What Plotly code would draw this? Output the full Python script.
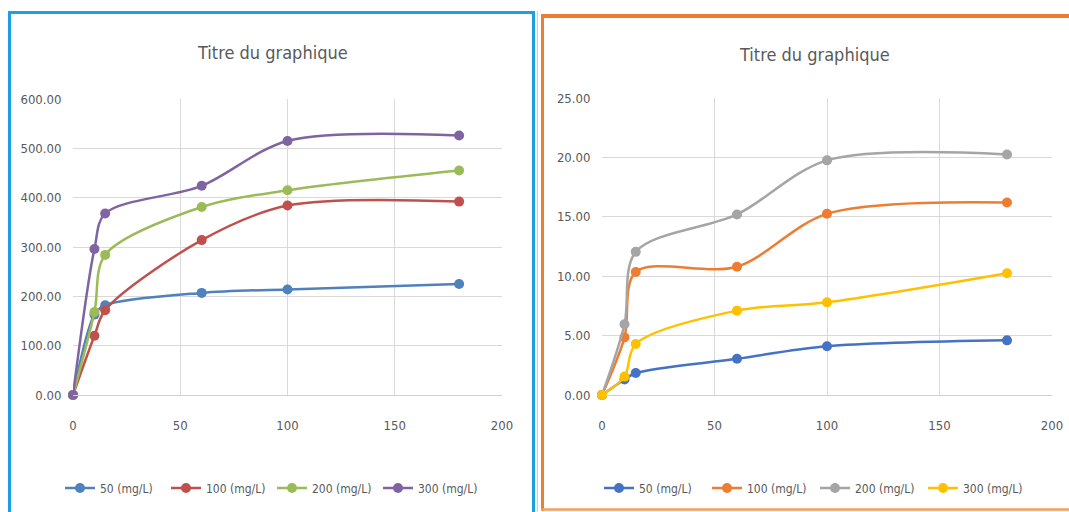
import plotly.graph_objects as go

W, H = 1069, 512

time_min = [0, 10, 15, 60, 100, 180]

left_names = ["50 (mg/L)", "100 (mg/L)", "200 (mg/L)", "300 (mg/L)"]
left_c50 = [0, 163, 182, 207, 214, 225]
left_c100 = [0, 120, 172, 314, 384, 392]
left_c200 = [0, 168, 284, 381, 415, 455]
left_c300 = [0, 296, 368, 424, 515, 526]
left_colors = ["#4F81BD", "#C0504D", "#9BBB59", "#8064A2"]

right_names = ["50 (mg/L)", "100 (mg/L)", "200 (mg/L)", "300 (mg/L)"]
right_c50 = [0, 1.3, 1.85, 3.05, 4.1, 4.6]
right_c100 = [0, 4.85, 10.35, 10.8, 15.25, 16.2]
right_c200 = [0, 5.95, 12.05, 15.2, 19.75, 20.25]
right_c300 = [0, 1.55, 4.3, 7.1, 7.8, 10.25]
right_colors = ["#4472C4", "#ED7D31", "#A5A5A5", "#FFC000"]

title_text = "Titre du graphique"
x_ticks = [0, 50, 100, 150, 200]

FONT = "DejaVu Sans Condensed, Liberation Sans Narrow, Liberation Sans, sans-serif"
TXT = "#595959"

fig = go.Figure()

for name, ys, col in zip(left_names, [left_c50, left_c100, left_c200, left_c300], left_colors):
    fig.add_trace(go.Scatter(
        x=time_min, y=ys, name=name, mode="lines+markers",
        line=dict(color=col, width=2.5, shape="spline", smoothing=0.9),
        marker=dict(color=col, size=10, symbol="circle"),
        cliponaxis=False,
        xaxis="x", yaxis="y", legend="legend"))

for name, ys, col in zip(right_names, [right_c50, right_c100, right_c200, right_c300], right_colors):
    fig.add_trace(go.Scatter(
        x=time_min, y=ys, name=name, mode="lines+markers",
        line=dict(color=col, width=2.5, shape="spline", smoothing=0.9),
        marker=dict(color=col, size=10, symbol="circle"),
        cliponaxis=False,
        xaxis="x2", yaxis="y2", legend="legend2"))

def px(x):
    return x / W

def py(y):
    return 1 - y / H

axis_common = dict(
    showgrid=True, gridcolor="#D9D9D9", gridwidth=1,
    zeroline=False, tickfont=dict(family=FONT, size=13, color=TXT),
    ticks="outside", tickcolor="rgba(0,0,0,0)", fixedrange=True,
    automargin=False,
)

fig.update_layout(
    width=W, height=H,
    autosize=False,
    margin=dict(l=0, r=0, t=0, b=0, pad=0, autoexpand=False),
    paper_bgcolor="white", plot_bgcolor="white",
    showlegend=True,
    xaxis=dict(domain=[px(73), px(502)], range=[0, 200], tickvals=x_ticks,
               anchor="y", ticklen=18, showline=True, linecolor="#D0D0D0",
               **axis_common),
    yaxis=dict(domain=[py(395), py(99)], range=[0, 600], dtick=100,
               tickformat=".2f", anchor="x", ticklen=8, **axis_common),
    xaxis2=dict(domain=[px(602), px(1052)], range=[0, 200], tickvals=x_ticks,
                anchor="y2", ticklen=18, showline=True, linecolor="#D0D0D0",
                **axis_common),
    yaxis2=dict(domain=[py(395), py(98)], range=[0, 25], dtick=5,
                tickformat=".2f", anchor="x2", ticklen=8, **axis_common),
    legend=dict(orientation="h", x=px(60), y=py(488), xanchor="left",
                yanchor="middle", font=dict(family=FONT, size=12, color=TXT),
                entrywidth=61, bgcolor="rgba(0,0,0,0)", itemwidth=30),
    legend2=dict(orientation="h", x=px(599), y=py(488), xanchor="left",
                 yanchor="middle", font=dict(family=FONT, size=12, color=TXT),
                 entrywidth=63, bgcolor="rgba(0,0,0,0)", itemwidth=30),
    annotations=[
        dict(text=title_text, x=px(273), y=py(52), xref="paper", yref="paper",
             showarrow=False, xanchor="center", yanchor="middle",
             font=dict(family=FONT, size=18, color=TXT)),
        dict(text=title_text, x=px(814), y=py(54), xref="paper", yref="paper",
             showarrow=False, xanchor="center", yanchor="middle",
             font=dict(family=FONT, size=18, color=TXT)),
    ],
    shapes=[
        dict(type="line", xref="paper", yref="paper", x0=px(9.5), x1=px(9.5), y0=py(11), y1=py(515), line=dict(color="#1BA1E2", width=3)),
        dict(type="line", xref="paper", yref="paper", x0=px(8), x1=px(535), y0=py(12.5), y1=py(12.5), line=dict(color="#1BA1E2", width=3)),
        dict(type="line", xref="paper", yref="paper", x0=px(533.5), x1=px(533.5), y0=py(11), y1=py(515), line=dict(color="#1BA1E2", width=3)),
        dict(type="line", xref="paper", yref="paper", x0=px(537.5), x1=px(537.5), y0=py(11), y1=py(515), line=dict(color="#D0D0D0", width=1)),
        dict(type="line", xref="paper", yref="paper", x0=px(542.5), x1=px(542.5), y0=py(14), y1=py(511), line=dict(color="#ED7D31", width=3)),
        dict(type="line", xref="paper", yref="paper", x0=px(541), x1=px(1075), y0=py(16), y1=py(16), line=dict(color="#ED7D31", width=4)),
        dict(type="line", xref="paper", yref="paper", x0=px(541), x1=px(1075), y0=py(509.5), y1=py(509.5), line=dict(color="#F0A060", width=2.5)),
    ],
)

fig.write_html("out.html")
